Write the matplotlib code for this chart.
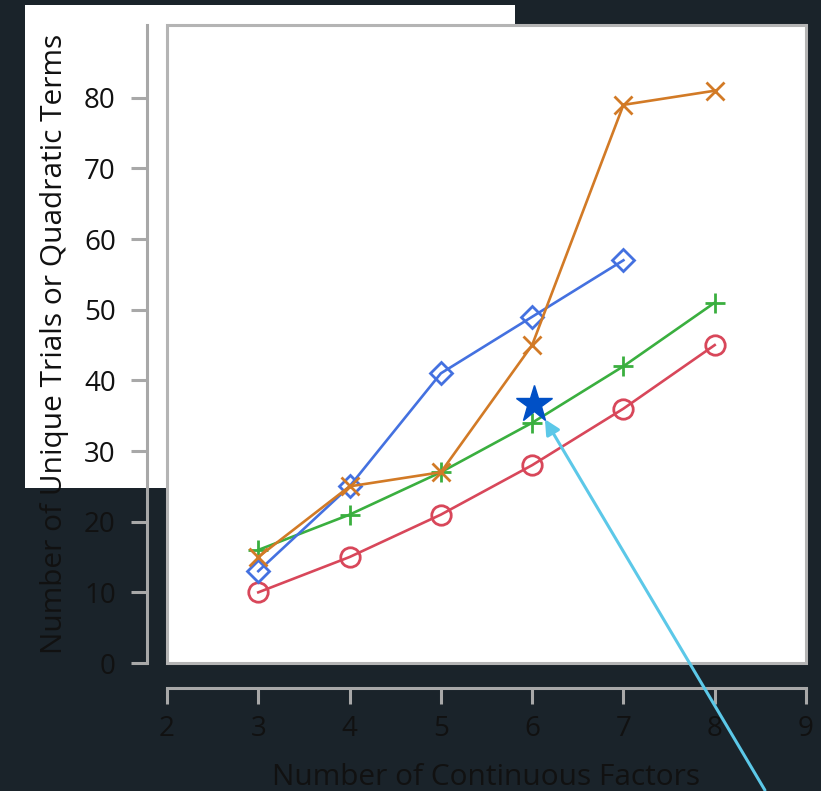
import matplotlib
matplotlib.use("Agg")
import matplotlib.pyplot as plt
from matplotlib.patches import Rectangle

plt.rcParams['font.family'] = ['Open Sans', 'DejaVu Sans']

# number of continuous factors
factors = [3, 4, 5, 6, 7, 8]
factors_diamond = [3, 4, 5, 6, 7]

# counts per design type
circle_vals = [10, 15, 21, 28, 36, 45]
plus_vals = [16, 21, 27, 34, 42, 51]
diamond_vals = [13, 25, 41, 49, 57]
cross_vals = [15, 25, 27, 45, 79, 81]

# highlighted point and arrow into it
star_x, star_y = 6.02, 36.7
arrow_tip = (6.14, 34.5)
arrow_tail = (8.55, -18.0)

x_ticks = [2, 3, 4, 5, 6, 7, 8, 9]
y_ticks = [0, 10, 20, 30, 40, 50, 60, 70, 80]

bg = '#1a232a'
axis_gray = '#a8a8a8'

fig = plt.figure(figsize=(8.21, 7.91), dpi=100, facecolor=bg)

# white panel behind the upper-left part
fig.add_artist(Rectangle((25 / 821, 1 - 488 / 791), 490 / 821, 483 / 791,
                         transform=fig.transFigure, facecolor='white',
                         edgecolor='none', zorder=-5))

ax = fig.add_axes([167 / 821, 1 - 663 / 791, 639 / 821, 638 / 791])
ax.set_facecolor('white')
ax.set_xlim(2, 9)
ax.set_ylim(0, 90.3)

lw = 1.9
ax.plot(factors, circle_vals, color='#d8475a', lw=lw, marker='o', ms=14,
        mfc='none', mew=2.0, zorder=3)
ax.plot(factors, plus_vals, color='#3aaf3f', lw=lw, marker='+', ms=15,
        mew=2.0, zorder=3)
ax.plot(factors_diamond, diamond_vals, color='#4471e0', lw=lw, marker='D',
        ms=11.5, mfc='none', mew=2.0, zorder=3)
ax.plot(factors, cross_vals, color='#d27a26', lw=lw, marker='x', ms=12.5,
        mew=2.0, zorder=3)

ax.plot([star_x], [star_y], marker='*', ms=28, color='#0050c6', zorder=5)

ax.annotate('', xy=arrow_tip, xytext=arrow_tail, xycoords='data',
            annotation_clip=False, zorder=6,
            arrowprops=dict(arrowstyle='-|>,head_length=0.9,head_width=0.45',
                            color='#5cc8e8', lw=2.2, shrinkA=0, shrinkB=0))

# box around the plotting region
ax.add_patch(Rectangle((0, 0), 1, 1, transform=ax.transAxes, fill=False,
                       edgecolor='#b4b4b4', lw=2.2, clip_on=False, zorder=4))

# detached axes (offsets in points: 20px and 25px at 100 dpi)
for side in ['top', 'right']:
    ax.spines[side].set_visible(False)
ax.spines['left'].set_position(('outward', 14.4))
ax.spines['bottom'].set_position(('outward', 18))
for side in ['left', 'bottom']:
    ax.spines[side].set_color(axis_gray)
    ax.spines[side].set_linewidth(2.2)

ax.set_xticks(x_ticks)
ax.set_yticks(y_ticks)
ax.tick_params(axis='both', colors=axis_gray, width=2.2, length=11.5,
               labelsize=20, labelcolor='#111111')
ax.tick_params(axis='x', pad=8)
ax.tick_params(axis='y', pad=11)

ax.set_xlabel('Number of Continuous Factors', fontsize=21.5, color='#111111',
              labelpad=14)
ax.set_ylabel('Number of Unique Trials or Quadratic Terms', fontsize=21.5,
              color='#111111', labelpad=11)

fig.savefig('out.png', dpi=100, facecolor=bg)
